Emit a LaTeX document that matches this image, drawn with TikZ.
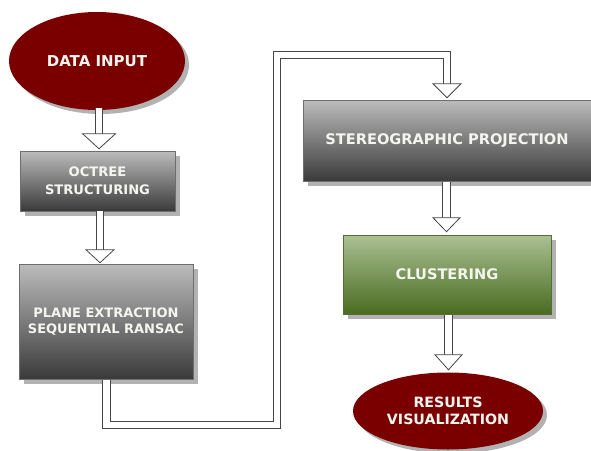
\documentclass[tikz,border=0pt]{standalone}
\usepackage{fontspec}
\newfontfamily\vfont{DejaVu Sans}
\usetikzlibrary{shapes.geometric,calc,shadows}
\definecolor{dred}{RGB}{122,0,0}
\definecolor{shd}{RGB}{178,178,178}
\definecolor{gtop}{RGB}{188,188,188}
\definecolor{gbot}{RGB}{58,58,58}
\definecolor{gbord}{RGB}{110,110,110}
\definecolor{ctop}{RGB}{172,192,148}
\definecolor{cbot}{RGB}{72,108,32}
\definecolor{cbord}{RGB}{85,110,55}
\definecolor{abord}{RGB}{70,70,70}
\definecolor{txt}{RGB}{245,245,240}
\begin{document}
\begin{tikzpicture}[x=1pt,y=-1pt,
  lbl/.style={text=txt, font=\vfont\bfseries\fontsize{14.6}{16}\selectfont, align=center},
  ellnode/.style={ellipse, fill=dred, draw=none, inner sep=0pt, lbl,
     drop shadow={shadow xshift=4pt, shadow yshift=-4pt, fill=shd, opacity=1}},
  graybox/.style={rectangle, top color=gtop, bottom color=gbot, draw=gbord, line width=0.5pt, inner sep=0pt, lbl,
     drop shadow={shadow xshift=5pt, shadow yshift=-5pt, fill=shd, opacity=1}},
  greenbox/.style={rectangle, top color=ctop, bottom color=cbot, draw=cbord, line width=0.6pt, inner sep=0pt, lbl,
     drop shadow={shadow xshift=5pt, shadow yshift=-5pt, fill=shd, opacity=1}},
  shaft/.style={draw=abord, double=white, double distance=6.6pt, line width=0.8pt, line join=miter, line cap=butt},
  headtri/.style={draw=abord, fill=white, line width=0.8pt, line join=miter}
]
\clip (0,0) rectangle (591,450);
\fill[white] (0,0) rectangle (591,450);

% nodes
\node[ellnode, minimum width=176, minimum height=98, font=\vfont\bfseries\fontsize{15}{16}\selectfont] (din) at (97,61) {DATA INPUT};
\node[graybox, minimum width=155, minimum height=60, font=\vfont\bfseries\fontsize{13.1}{18}\selectfont] (oct) at (97.5,181) {OCTREE\\STRUCTURING};
\node[graybox, minimum width=174, minimum height=115, font=\vfont\bfseries\fontsize{13}{15.5}\selectfont] (pln) at (106,321.5) {PLANE EXTRACTION\\SEQUENTIAL RANSAC};
\node[graybox, minimum width=288, minimum height=81] (ste) at (447,140.5) {STEREOGRAPHIC PROJECTION};
\node[greenbox, minimum width=208, minimum height=79] (clu) at (447,274.5) {CLUSTERING};
\node[ellnode, minimum width=190, minimum height=77, font=\vfont\bfseries\fontsize{14.2}{16.5}\selectfont] (res) at (448,411) {RESULTS\\VISUALIZATION};

% arrow tips
\coordinate (t1) at ($(oct.north)+(1.5,-2)$);
\coordinate (t2) at ($(pln.north)+(-6,-1)$);
\coordinate (t3) at ($(ste.north)+(0,-2)$);
\coordinate (t4) at ($(clu.north)+(-0.5,-3)$);
\coordinate (t5) at ($(res.north)+(0.5,-2.5)$);
\coordinate (b3) at (106.5,425);
\coordinate (c3) at (277,425);
\coordinate (d3) at (277,55);
\coordinate (e3) at (447,55);

% shafts
\draw[shaft] ($(din.south -| t1)+(0,-2)$) -- ($(t1)+(0,-15)$);
\draw[shaft] ($(oct.south -| t2)+(0,-0.5)$) -- ($(t2)+(0,-13)$);
\draw[shaft] ($(pln.south -| b3)+(0,0.5)$) -- (b3) -- (c3) -- (d3) -- (e3) -- ($(t3)+(0,-14)$);
\draw[shaft] ($(ste.south -| t4)+(0,0.5)$) -- ($(t4)+(0,-14)$);
\draw[shaft] ($(clu.south -| t5)+(0,0.5)$) -- ($(t5)+(0,-15)$);

% heads
\draw[headtri] (t1) -- ++(-16.5,-15) -- ++(33,0) -- cycle;
\draw[headtri] (t2) -- ++(-14,-13) -- ++(28,0) -- cycle;
\draw[headtri] (t3) -- ++(-14,-14) -- ++(28,0) -- cycle;
\draw[headtri] (t4) -- ++(-13.5,-14) -- ++(27,0) -- cycle;
\draw[headtri] (t5) -- ++(-13.5,-15) -- ++(27,0) -- cycle;
\end{tikzpicture}
\end{document}
